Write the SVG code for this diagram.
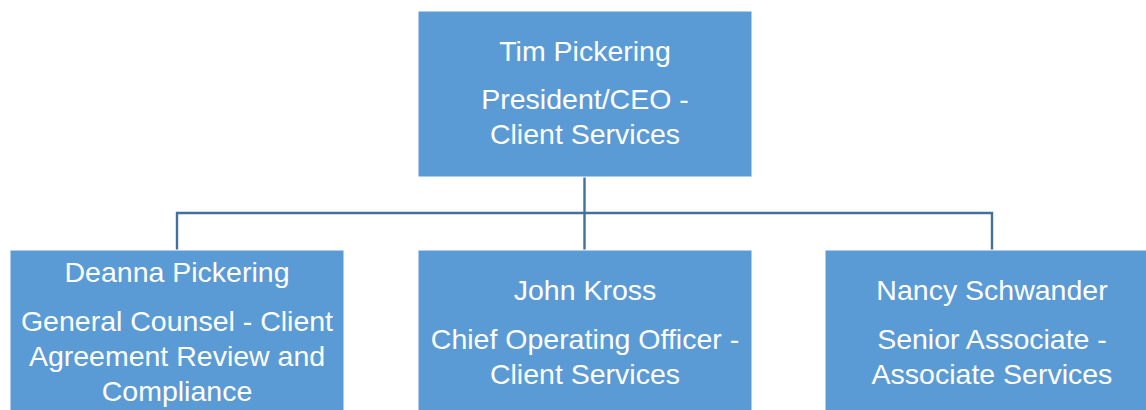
<svg xmlns="http://www.w3.org/2000/svg" width="1146" height="410" viewBox="0 0 1146 410">
<style>
.box{fill:#5B9BD5;stroke:#ffffff;stroke-width:1}
.t{font-family:"Liberation Sans",Arial,sans-serif;font-size:28.5px;fill:#ffffff;text-anchor:middle}
.c{fill:none;stroke:#41719C;stroke-width:2.4}
</style>
<rect width="1146" height="410" fill="#ffffff"/>
<g id="connectors">
<path class="c" d="M584.5 177 V250"/>
<path class="c" d="M177 250 V213 H992 V250"/>
</g>
<g id="node-tim">
<rect class="box" x="418" y="11" width="334" height="166"/>
<text class="t" x="585" y="61">Tim Pickering</text>
<text class="t" x="585" y="109">President/CEO -</text>
<text class="t" x="585" y="144">Client Services</text>
</g>
<g id="node-deanna">
<rect class="box" x="10" y="250" width="334" height="170"/>
<text class="t" x="177" y="282">Deanna Pickering</text>
<text class="t" x="177" y="331">General Counsel - Client</text>
<text class="t" x="177" y="366">Agreement Review and</text>
<text class="t" x="177" y="401">Compliance</text>
</g>
<g id="node-john">
<rect class="box" x="418" y="250" width="334" height="170"/>
<text class="t" x="585" y="300">John Kross</text>
<text class="t" x="585" y="349">Chief Operating Officer -</text>
<text class="t" x="585" y="384">Client Services</text>
</g>
<g id="node-nancy">
<rect class="box" x="825" y="250" width="334" height="170"/>
<text class="t" x="992" y="300">Nancy Schwander</text>
<text class="t" x="992" y="349">Senior Associate -</text>
<text class="t" x="992" y="384">Associate Services</text>
</g>
</svg>
